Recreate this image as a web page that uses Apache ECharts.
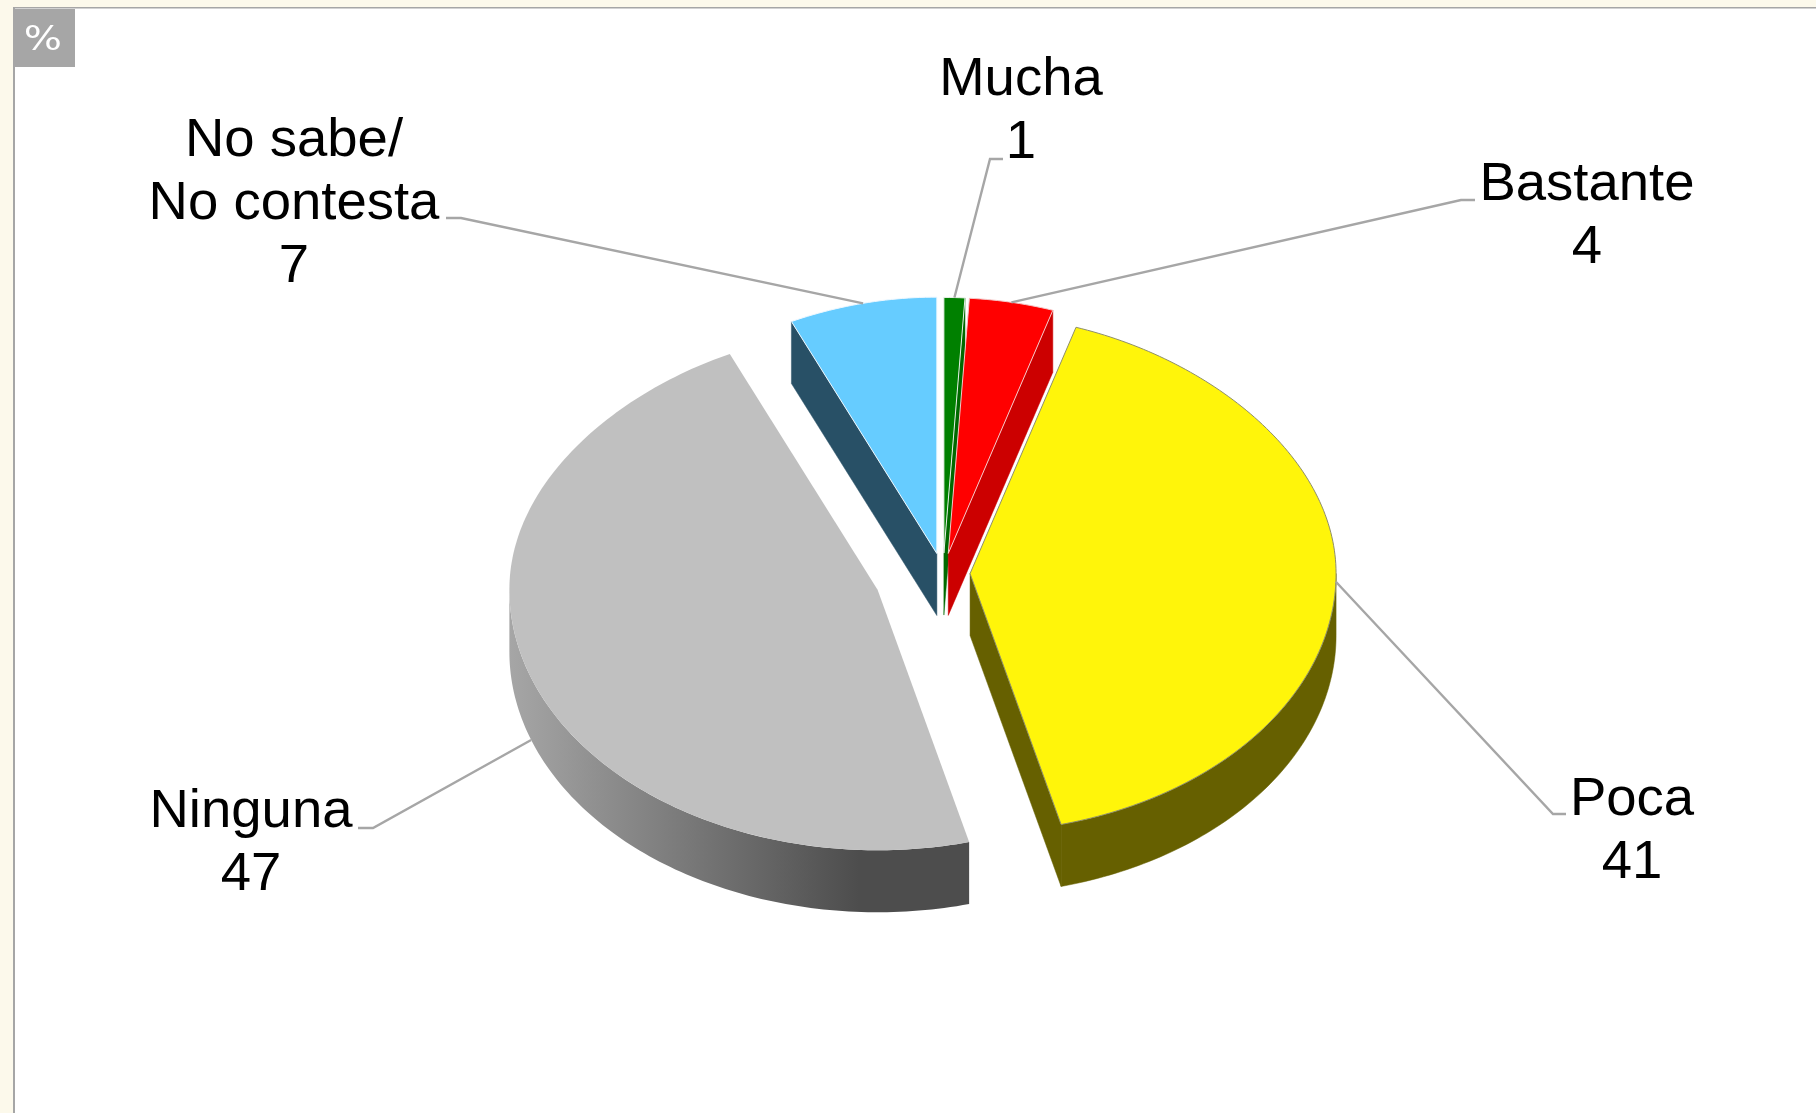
<!DOCTYPE html>
<html>
<head>
<meta charset="utf-8">
<style>
  html, body { margin: 0; padding: 0; background: #fcf9eb; }
  #chart { width: 1816px; height: 1113px; }
</style>
<script src="https://cdn.jsdelivr.net/npm/echarts@6/dist/echarts.min.js"></script>
</head>
<body>
<div id="chart"></div>
<script>
const categories = ['Mucha', 'Bastante', 'Poca', 'Ninguna', 'No sabe/\nNo contesta']
const shares = [1, 4, 41, 47, 7]

// slice look, same order as categories
const topColors = ['#008000', '#ff0000', '#fff50a', '#c0c0c0', '#66ccff']
const wallColors = ['#006a00', '#cc0000', '#666000', '#4d4d4d', '#285066']
const edgeColors = ['#e8f0e8', '#f5c8c8', '#8f8f6a', null, '#eef8ff']
const explode = [0.077, 0.077, 0.074, 0.19, 0.077]
const radiusScale = [0.987, 0.987, 1, 1.006, 0.99]

// pie geometry in px
const cx = 943
const cy = 573
const rx = 366
const ry = 259
const depth = 62 / ry

// label block centre, leader elbow and end, in px
const labelBoxes = [
  { x: 1021, y: 111.5, elbow: [990, 159], end: [1003, 159], drop: 0 },
  { x: 1587, y: 216.5, elbow: [1461, 200], end: [1475, 200], drop: 0 },
  { x: 1632, y: 831.5, elbow: [1553, 814], end: [1566, 814], drop: 0 },
  { x: 251, y: 843.5, elbow: [373, 828], end: [358, 828], drop: depth },
  { x: 294, y: 204, elbow: [461, 218], end: [446, 218], drop: 0 }
]

const total = shares.reduce((a, b) => a + b, 0)
const starts = []
shares.reduce((sum, v, i) => {
  starts[i] = sum
  return sum + v
}, 0)

const rad = (d) => (d * Math.PI) / 180

// point on the rim in unit coords, back of the pie is a bit narrower
function rimPoint(apex, deg, drop, r) {
  const c = Math.cos(rad(deg))
  const squeeze = 1 - 0.07 * Math.pow(Math.max(0, c), 2)
  return [apex[0] + r * Math.sin(rad(deg)) * squeeze, apex[1] + r * c - drop]
}

function arcPoints(apex, from, to, drop, r) {
  const pts = []
  const n = Math.max(2, Math.ceil(Math.abs(to - from)))
  for (let i = 0; i <= n; i++) {
    pts.push(rimPoint(apex, from + ((to - from) * i) / n, drop, r))
  }
  return pts
}

function renderSlice(params, api) {
  const i = params.dataIndex
  const a = (starts[i] / total) * 360
  const b = a + (api.value(0) / total) * 360
  const mid = (a + b) / 2
  const r = radiusScale[i]
  const apex = [explode[i] * Math.sin(rad(mid)), explode[i] * Math.cos(rad(mid))]
  const px = (pts) => pts.map((p) => api.coord(p))
  const wallStyle = { fill: wallColors[i], stroke: edgeColors[i] ? wallColors[i] : null, lineWidth: 0.5 }
  const children = []

  // radial walls
  const wall = (deg) => {
    const p = rimPoint(apex, deg, 0, r)
    const q = rimPoint(apex, deg, depth, r)
    return [apex, p, q, [apex[0], apex[1] - depth]]
  }
  if (Math.sin(rad(b)) > 0.001) {
    children.push({ type: 'polygon', shape: { points: px(wall(b)) }, style: wallStyle })
  }
  if (Math.sin(rad(a)) < -0.001) {
    children.push({ type: 'polygon', shape: { points: px(wall(a)) }, style: wallStyle })
  }

  // front rim
  const from = Math.max(a, 90)
  const to = Math.min(b, 270)
  if (to > from) {
    const rim = arcPoints(apex, from, to, 0, r).concat(arcPoints(apex, to, from, depth, r))
    let fill = wallColors[i]
    if (categories[i] === 'Ninguna') {
      fill = new echarts.graphic.LinearGradient(1, 0, 0, 0, [
        { offset: 0, color: '#4d4d4d' },
        { offset: 0.24, color: '#4d4d4d' },
        { offset: 1, color: '#a6a6a6' }
      ])
    }
    children.push({
      type: 'polygon',
      shape: { points: px(rim) },
      style: { fill: fill, stroke: edgeColors[i] ? wallColors[i] : null, lineWidth: 0.5 }
    })
  }

  // top face
  children.push({
    type: 'polygon',
    shape: { points: px([apex].concat(arcPoints(apex, a, b, 0, r))) },
    style: { fill: topColors[i], stroke: edgeColors[i], lineWidth: edgeColors[i] ? 1 : 0 }
  })

  // leader and label
  const box = labelBoxes[i]
  children.push({
    type: 'polyline',
    shape: { points: [api.coord(rimPoint(apex, mid, box.drop, r)), box.elbow, box.end] },
    style: { fill: null, stroke: '#a6a6a6', lineWidth: 2.4 }
  })
  children.push({
    type: 'text',
    style: {
      text: categories[i] + '\n' + api.value(0),
      x: box.x,
      y: box.y,
      align: 'center',
      verticalAlign: 'middle',
      fontFamily: 'Liberation Sans',
      fontSize: 54.5,
      lineHeight: 63,
      fill: '#000'
    }
  })
  return { type: 'group', children: children }
}

const myChart = echarts.init(document.getElementById('chart'), null, { renderer: 'canvas' })
myChart.setOption({
  animation: false,
  backgroundColor: '#fcf9eb',
  grid: { left: cx - rx, top: cy - ry, width: rx * 2, height: ry * 2, show: false },
  xAxis: { type: 'value', min: -1, max: 1, show: false },
  yAxis: { type: 'value', min: -1, max: 1, show: false },
  graphic: [
    { type: 'rect', z: -10, shape: { x: 14, y: 8, width: 1802, height: 1105 }, style: { fill: '#fff' } },
    { type: 'rect', z: -9, shape: { x: 13, y: 7, width: 1803, height: 1.5 }, style: { fill: '#a6a6a6' } },
    { type: 'rect', z: -9, shape: { x: 13, y: 7, width: 2, height: 1106 }, style: { fill: '#a6a6a6' } },
    { type: 'rect', z: -8, shape: { x: 15, y: 9, width: 60, height: 58 }, style: { fill: '#a6a6a6' } },
    {
      type: 'text',
      z: -7,
      x: 43,
      y: 41,
      scaleX: 1.22,
      style: {
        text: '%',
        align: 'center',
        verticalAlign: 'middle',
        fontFamily: 'DejaVu Sans',
        fontSize: 33,
        fill: '#fff'
      }
    }
  ],
  series: [
    {
      type: 'custom',
      coordinateSystem: 'cartesian2d',
      silent: true,
      renderItem: renderSlice,
      data: shares.map((v, i) => ({ name: categories[i], value: [v] }))
    }
  ]
})
</script>
</body>
</html>
